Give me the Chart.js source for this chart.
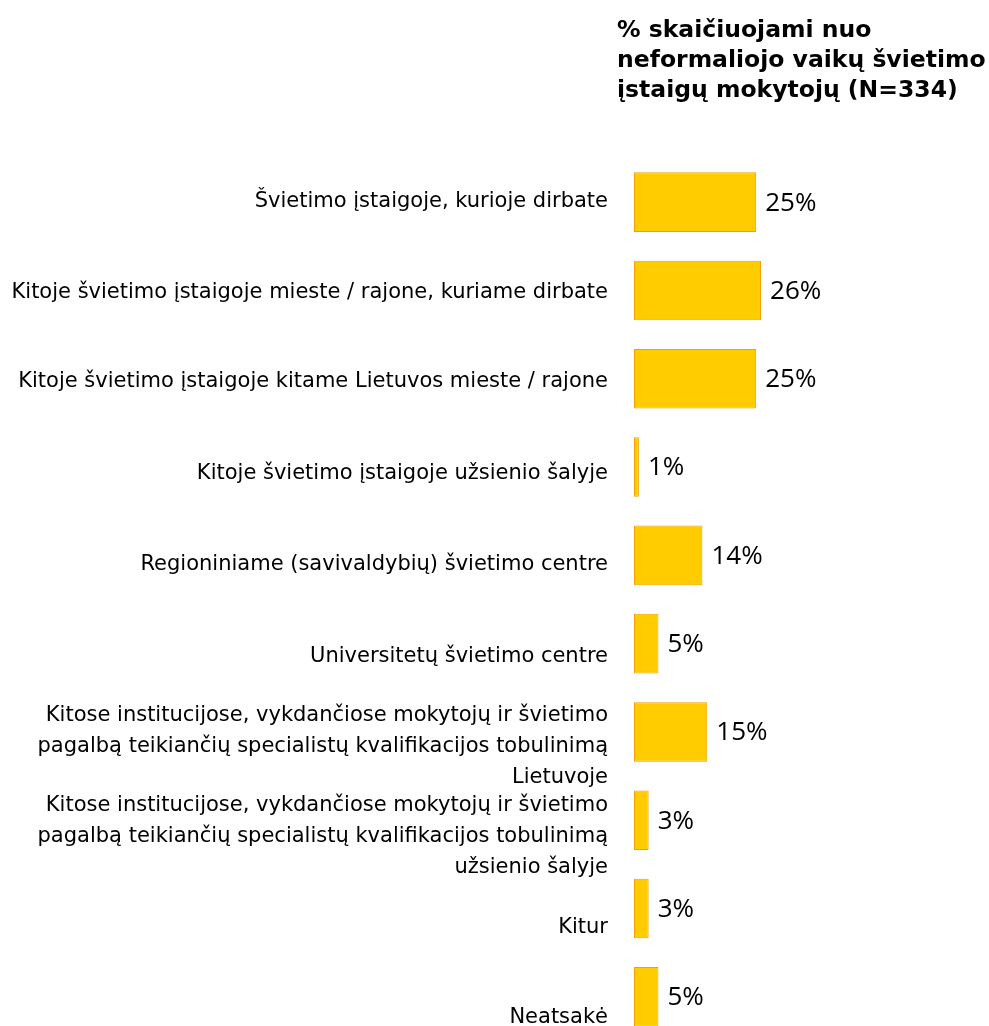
<!DOCTYPE html>
<html>
<head>
<meta charset="utf-8">
<script src="https://cdn.jsdelivr.net/npm/chart.js@4/dist/chart.umd.min.js"></script>
<style>
  html, body { margin: 0; padding: 0; background: #fff; overflow: hidden; }
  #wrap { width: 989px; height: 1026px; overflow: hidden; }
  #wrap canvas { display: block; }
</style>
</head>
<body>
<div id="wrap"><canvas id="myChart" width="989" height="1041"></canvas></div>
<script>
const categorijos = [
  "Švietimo įstaigoje, kurioje dirbate",
  "Kitoje švietimo įstaigoje mieste / rajone, kuriame dirbate",
  "Kitoje švietimo įstaigoje kitame Lietuvos mieste / rajone",
  "Kitoje švietimo įstaigoje užsienio šalyje",
  "Regioniniame (savivaldybių) švietimo centre",
  "Universitetų švietimo centre",
  ["Kitose institucijose, vykdančiose mokytojų ir švietimo", "pagalbą teikiančių specialistų kvalifikacijos tobulinimą", "Lietuvoje"],
  ["Kitose institucijose, vykdančiose mokytojų ir švietimo", "pagalbą teikiančių specialistų kvalifikacijos tobulinimą", "užsienio šalyje"],
  "Kitur",
  "Neatsakė"
];
const procentai = [25, 26, 25, 1, 14, 5, 15, 3, 3, 5];
const pavadinimas = ["% skaičiuojami nuo", "neformaliojo vaikų švietimo", "įstaigų mokytojų (N=334)"];

// kategoriju uzrasu vertikalus postumis (px), kaip originale
const uzrasuPostumis = [-1, 2, 3, 6, 9, 13, 15, 16.5, 19, 21];

const grafica = document.getElementById('myChart').getContext('2d');

// pavadinimas virsuje, desineje
const titlePlugin = {
  id: 'titlePlugin',
  afterDraw(chart) {
    const ctx = chart.ctx;
    ctx.save();
    ctx.font = 'bold 23.5px "DejaVu Sans"';
    ctx.fillStyle = '#000';
    ctx.textAlign = 'left';
    ctx.textBaseline = 'alphabetic';
    pavadinimas.forEach((eil, i) => {
      ctx.fillText(eil, 617, 37 + i * 30);
    });
    ctx.restore();
  }
};

// pastumti y asies uzrasus
const labelNudge = {
  id: 'labelNudge',
  beforeDraw(chart) {
    const items = chart.scales.y.getLabelItems();
    if (items._pastumta) return;
    items.forEach((it, i) => {
      it.options.translation[1] += uzrasuPostumis[i] || 0;
    });
    items._pastumta = true;
  }
};

// reiksmes prie stulpeliu
const valuePlugin = {
  id: 'valuePlugin',
  afterDatasetsDraw(chart) {
    const ctx = chart.ctx;
    const meta = chart.getDatasetMeta(0);
    ctx.save();
    ctx.font = '26px "Open Sans"';
    ctx.fillStyle = '#000';
    ctx.textAlign = 'left';
    ctx.textBaseline = 'middle';
    meta.data.forEach((bar, i) => {
      const p = bar.getProps(['x', 'y'], true);
      ctx.fillText(procentai[i] + '%', p.x + 9, p.y + 1);
    });
    ctx.restore();
  }
};

const myChart = new Chart(grafica, {
  type: 'bar',
  data: {
    labels: categorijos,
    datasets: [{
      data: procentai,
      backgroundColor: '#FFCC00',
      borderColor: '#EFA200',
      borderWidth: 1,
      borderSkipped: false,
      barPercentage: 0.675,
      categoryPercentage: 1
    }]
  },
  options: {
    indexAxis: 'y',
    responsive: false,
    animation: false,
    layout: { padding: { top: 158, right: 13, left: 0, bottom: 0 } },
    plugins: {
      legend: { display: false },
      tooltip: { enabled: false }
    },
    scales: {
      x: {
        min: 0,
        max: 70,
        display: false
      },
      y: {
        grid: { display: false, drawTicks: false },
        border: { display: false },
        afterFit: (scale) => {
          scale.width = 634;
          scale.paddingTop = 0;
          scale.paddingBottom = 0;
        },
        ticks: {
          color: '#000',
          padding: 26,
          labelOffset: 0,
          autoSkip: false,
          font: { family: '"DejaVu Sans"', size: 21, lineHeight: 1.48 }
        }
      }
    }
  },
  plugins: [titlePlugin, labelNudge, valuePlugin]
});
</script>
</body>
</html>
